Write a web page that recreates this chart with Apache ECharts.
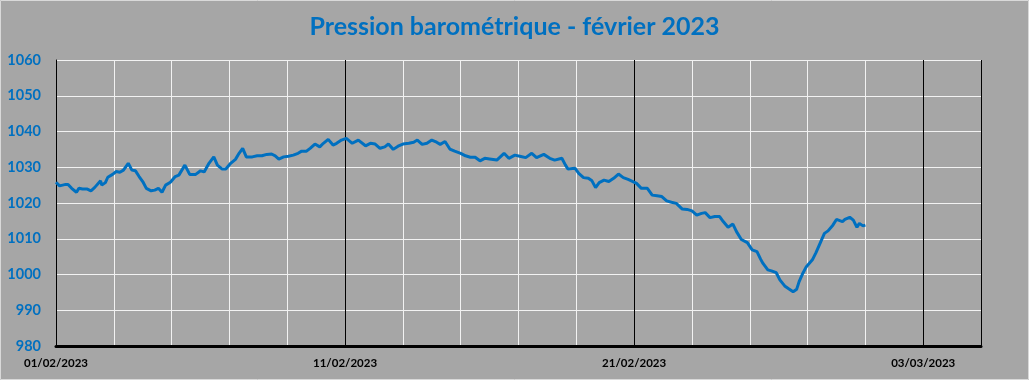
<!DOCTYPE html>
<html>
<head>
<meta charset="utf-8">
<script src="https://cdn.jsdelivr.net/npm/echarts@6/dist/echarts.min.js"></script>
<style>
html,body{margin:0;padding:0;background:#a6a6a6;}
#c{width:1029px;height:380px;}
</style>
</head>
<body>
<div id="c"></div>
<script>
// Hours elapsed since 01/02/2023 00:00
const hours = [0,3,8,10,13,17,19,22,26,29,32,37,38,41,43,47,50,53,56,60,63,66,69,72,75,79,82,85,88,91,95,99,102,107,111,116,120,123,127,131,134,138,141,145,149,152,155,158,163,167,171,175,179,182,185,189,193,197,201,204,208,211,215,219,222,226,230,233,237,241,246,251,257,261,265,269,273,276,280,284,288,293,297,300,304,308,312,316,319,323,327,331,336,340,344,348,352,356,360,366,372,376,381,385,390,395,399,405,410,414,420,423,425,431,434,438,442,445,448,451,455,459,463,467,471,475,479,482,486,491,495,499,503,507,511,515,520,524,528,532,536,539,543,547,551,554,558,562,565,569,574,578,582,585,587,591,594,598,601,605,608,612,615,617,620,623,628,631,635,638,641,645,648,653,655,659,662,665,667,670,672];
// Barometric pressure (hPa)
const pressure = [1025.8,1024.8,1025.2,1025.2,1024.1,1023.0,1024.1,1023.9,1023.9,1023.4,1024.3,1026.2,1025.0,1025.7,1027.2,1028.0,1028.8,1028.6,1029.2,1031.1,1029.2,1029.0,1027.4,1026.0,1024.1,1023.4,1023.6,1024.1,1023.0,1025.0,1025.8,1027.4,1027.8,1030.6,1028.0,1028.0,1029.0,1028.7,1031.1,1032.9,1030.6,1029.5,1029.5,1031.1,1032.2,1033.9,1035.3,1032.9,1032.9,1033.2,1033.2,1033.6,1033.7,1033.2,1032.3,1032.9,1033.1,1033.4,1033.9,1034.5,1034.5,1035.3,1036.5,1035.7,1036.7,1037.8,1036.2,1036.7,1037.6,1038.1,1036.7,1037.6,1036.0,1036.7,1036.5,1035.3,1035.7,1036.5,1035.0,1035.9,1036.5,1036.7,1037.0,1037.6,1036.4,1036.7,1037.6,1037.0,1036.4,1037.2,1035.1,1034.5,1033.9,1033.2,1032.8,1032.8,1031.8,1032.5,1032.3,1032.0,1033.9,1032.5,1033.4,1033.1,1032.7,1033.9,1032.7,1033.6,1032.5,1032.0,1032.5,1030.6,1029.5,1029.7,1028.3,1027.1,1026.9,1026.2,1024.3,1025.7,1026.4,1026.0,1026.9,1028.1,1027.1,1026.6,1026.0,1025.5,1024.1,1024.1,1022.2,1022.0,1021.8,1020.6,1020.2,1019.9,1018.3,1018.2,1017.8,1016.6,1017.1,1017.3,1015.9,1016.2,1016.2,1014.8,1013.2,1014.1,1012.0,1009.8,1008.9,1006.9,1006.4,1004.3,1003.1,1001.3,1001.0,1000.5,998.5,996.8,996.1,995.2,995.9,998.0,1000.3,1002.2,1004.1,1006.1,1009.2,1011.5,1012.2,1013.8,1015.4,1014.8,1015.4,1016.0,1015.2,1013.2,1014.3,1013.6,1013.8];
// X tick labels, every 10 days (240 h)
const xTickLabels = ['01/02/2023','11/02/2023','21/02/2023','03/03/2023'];
const yMin = 980, yMax = 1060, yStep = 10;
const xMaxHours = 768;

const seriesData = hours.map((h,i)=>[h, pressure[i]]);
const blue = '#0070c0';
const chart = echarts.init(document.getElementById('c'));
chart.setOption({
  backgroundColor:'#a6a6a6',
  animation:false,
  title:{
    text:'Pression barométrique - février 2023',
    left:'center', top:9,
    textStyle:{color:blue, fontFamily:'Lato', fontWeight:'bold', fontSize:25}
  },
  graphic:[{type:'rect', shape:{x:0.5,y:0.5,width:1028,height:379}, style:{fill:null, stroke:'#d9d9d9', lineWidth:1}, silent:true}],
  grid:{left:56, right:48, top:60, bottom:34},
  xAxis:[{
    type:'value', min:0, max:xMaxHours, interval:48,
    axisLine:{show:true, onZero:false, lineStyle:{color:'#000', width:3}},
    axisTick:{show:false},
    splitLine:{show:true, lineStyle:{color:'#f2f2f2', width:1}},
    axisLabel:{
      margin:11, color:'#000', fontFamily:'Lato', fontWeight:'bold', fontSize:11.5,
      formatter:v => (v % 240 === 0 ? (xTickLabels[v/240] || '') : '')
    }
  },{
    type:'value', min:0, max:xMaxHours, interval:240, position:'bottom', z:1,
    axisLine:{show:false}, axisTick:{show:false}, axisLabel:{show:false},
    splitLine:{show:true, lineStyle:{color:'#000', width:1}}
  }],
  yAxis:{
    type:'value', min:yMin, max:yMax, interval:yStep,
    axisLine:{show:true, lineStyle:{color:'#000', width:1}},
    axisTick:{show:false},
    splitLine:{show:true, lineStyle:{color:'#f2f2f2', width:1}},
    axisLabel:{margin:15, color:blue, fontFamily:'Lato', fontWeight:'bold', fontSize:14.5,
      formatter:v => String(v)}
  },
  series:[{
    type:'line', xAxisIndex:0, data:seriesData, showSymbol:false, z:3,
    lineStyle:{color:blue, width:3}
  }]
});
</script>
</body>
</html>
